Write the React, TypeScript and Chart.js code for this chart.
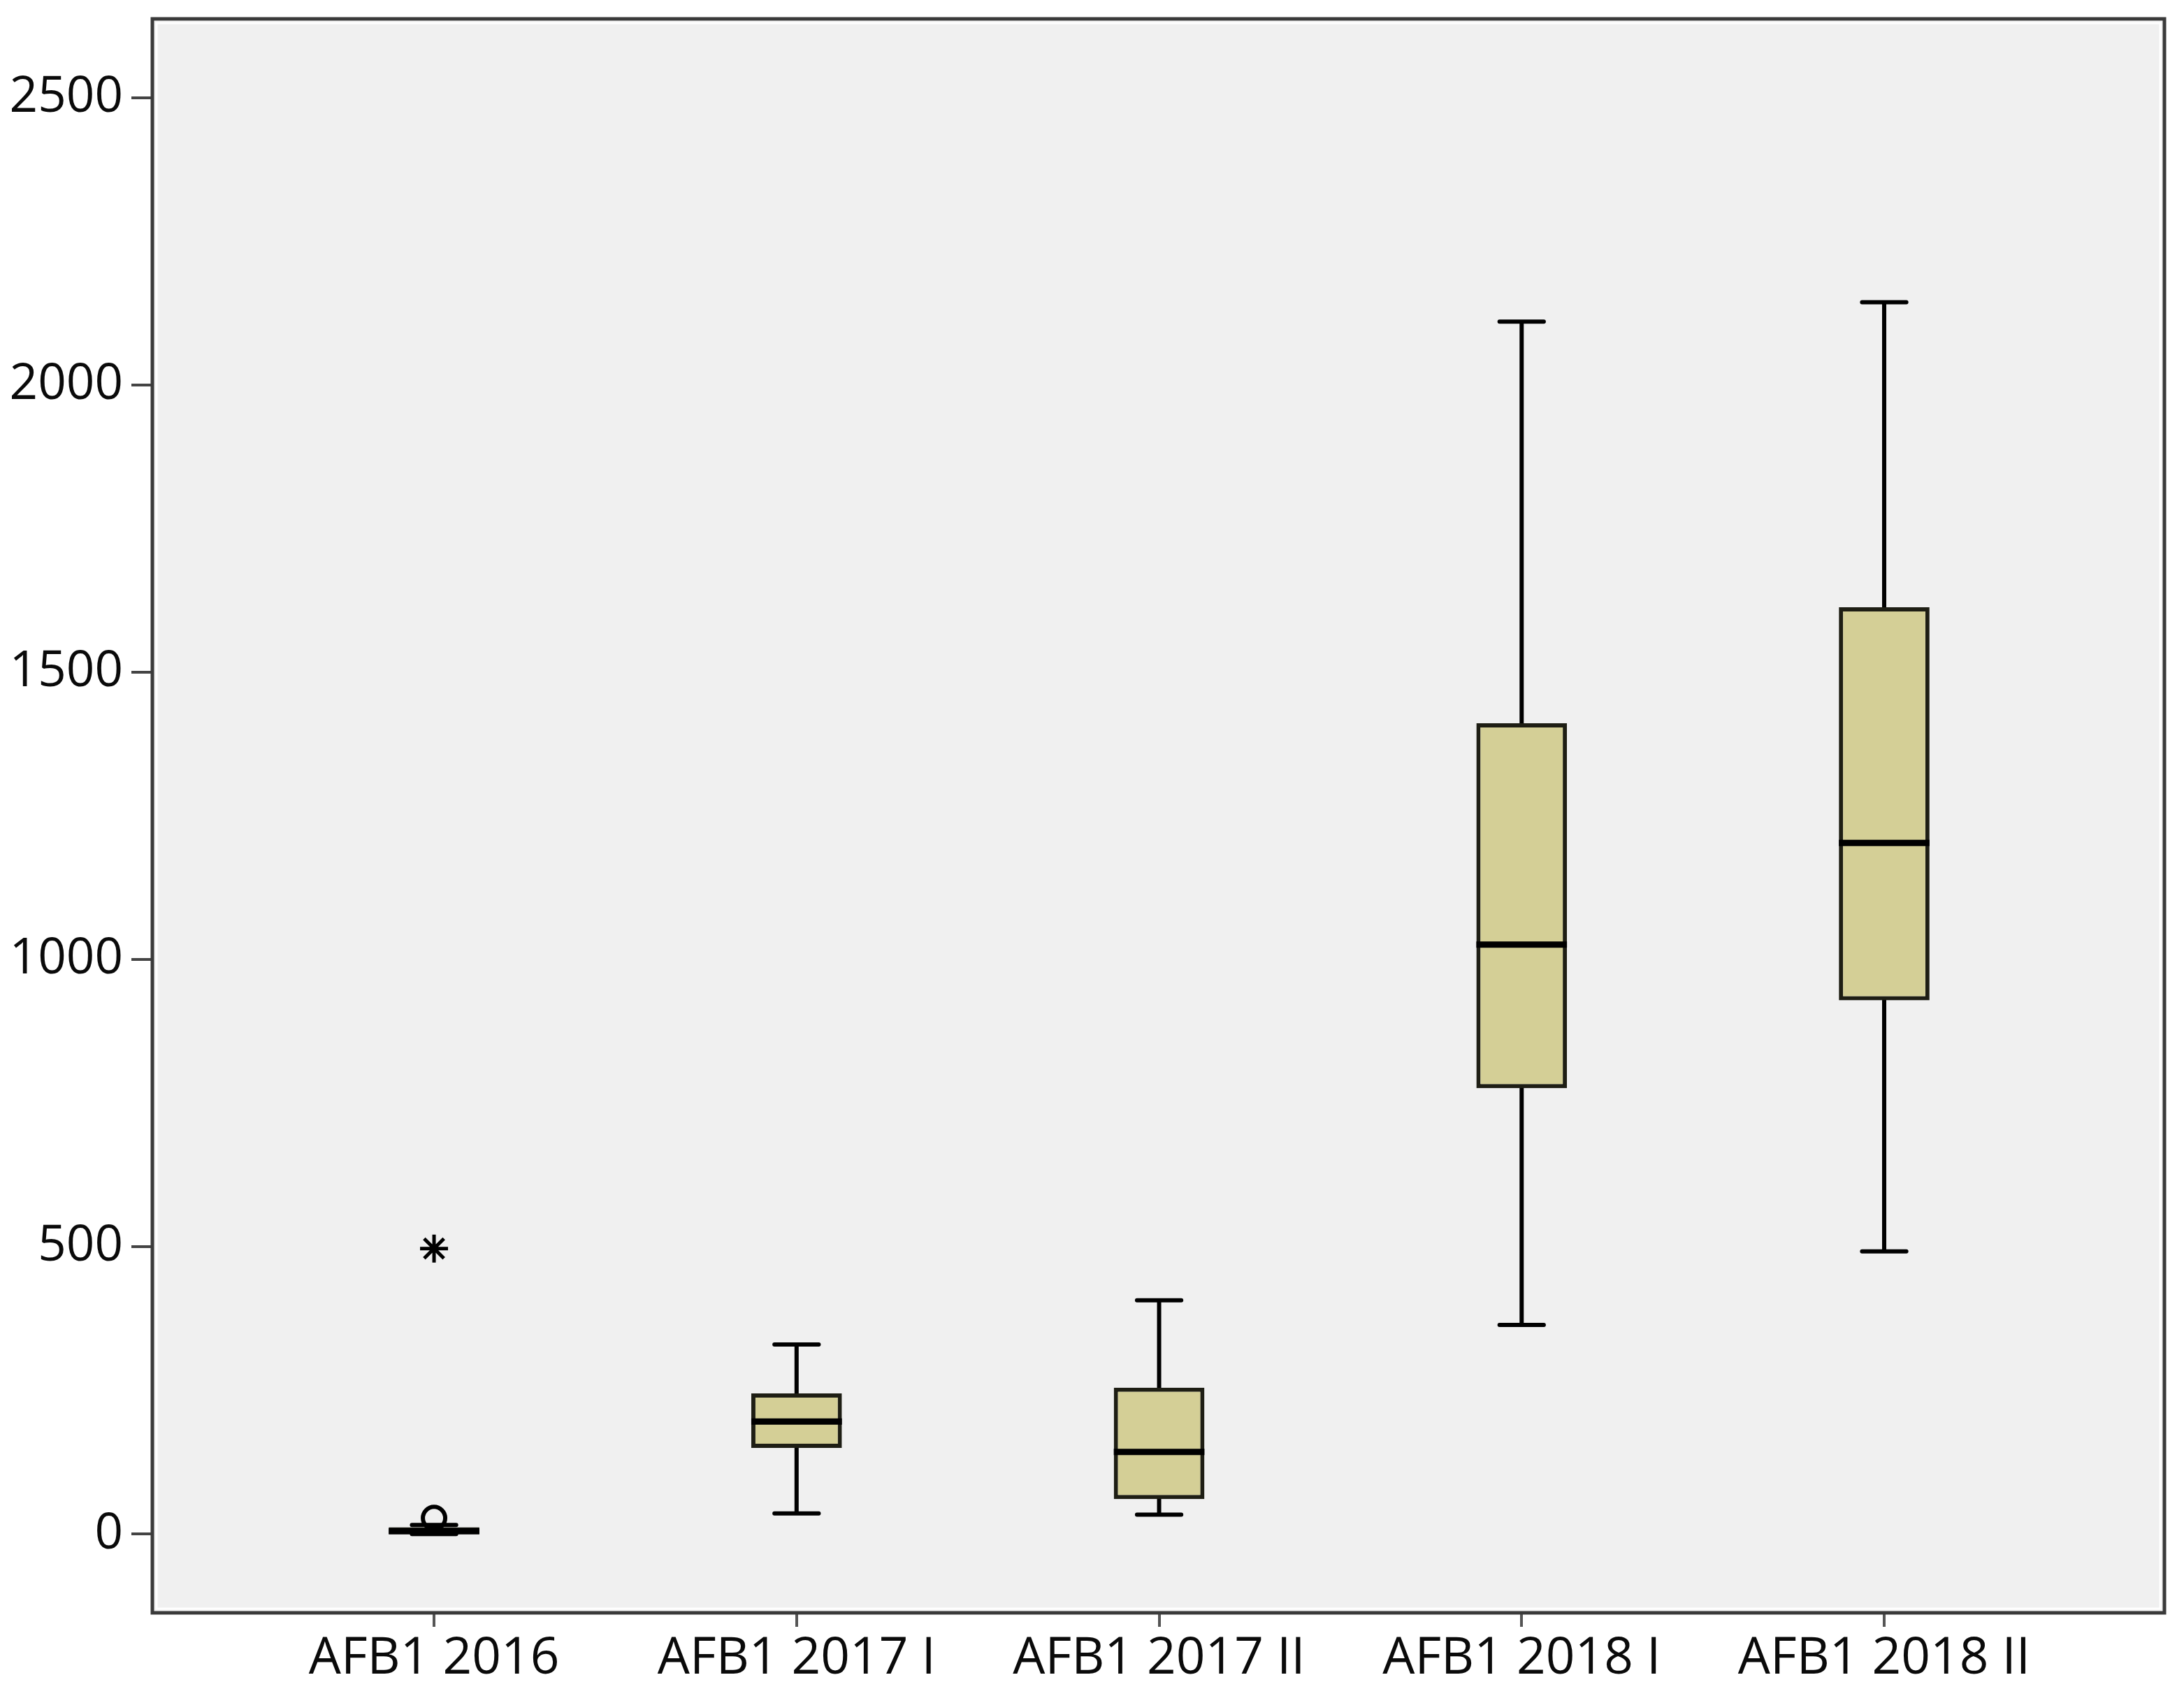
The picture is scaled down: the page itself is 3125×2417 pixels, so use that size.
import React, { useEffect, useRef } from 'react';
import { Chart, registerables } from 'chart.js';

Chart.register(...registerables);

// ---- data ----
const categories = ['AFB1 2016', 'AFB1 2017 I', 'AFB1 2017 II', 'AFB1 2018 I', 'AFB1 2018 II'];
const whiskerLow = [0, 36, 34, 364, 492];
const q1Values = [0.5, 150, 61, 776, 929];
const medians = [5, 196, 143, 1026, 1203];
const q3Values = [12, 245, 255, 1411, 1613];
const whiskerHigh = [16, 330, 407, 2110, 2144];
const outlierCats = [0];
const outlierValues = [28];
const extremeCats = [0];
const extremeValues = [497];
const yTickValues = [0, 500, 1000, 1500, 2000, 2500];

// ---- axis ranges / styling ----
const Y_MIN = -137;
const Y_MAX = 2637;
const X_MIN = -0.777;
const X_MAX = 4.773;
const BOX_FRACTION = 0.25;
const CAP_HALF = 0.061;
const FONT = '"Open Sans", "Noto Sans", sans-serif';

const framePlugin = {
  id: 'frame',
  beforeDraw(chart: any) {
    const { ctx, chartArea } = chart;
    const { left, top, right, bottom } = chartArea;
    ctx.save();
    ctx.fillStyle = '#ffffff';
    ctx.fillRect(0, 0, chart.width, chart.height);
    ctx.fillStyle = '#f0f0f0';
    ctx.fillRect(left, top, right - left, bottom - top);
    ctx.restore();
  },
  afterDraw(chart: any) {
    const { ctx, chartArea } = chart;
    const { left, top, right, bottom } = chartArea;
    ctx.save();
    ctx.strokeStyle = '#ffffff';
    ctx.lineWidth = 3;
    ctx.strokeRect(left + 6, top + 6, right - left - 12, bottom - top - 12);
    ctx.strokeStyle = '#3a3a3a';
    ctx.lineWidth = 5;
    ctx.strokeRect(left, top, right - left, bottom - top);
    ctx.restore();
  },
};

export default function App() {
  const ref = useRef<HTMLCanvasElement | null>(null);

  useEffect(() => {
    if (!ref.current) return;
    Chart.defaults.font.family = FONT;

    const boxData = categories.map((_, i) => ({ x: i, y: [q1Values[i], q3Values[i]] }));

    const whiskerData: any[] = [];
    categories.forEach((_, i) => {
      whiskerData.push({ x: i, y: whiskerLow[i] }, { x: i, y: q1Values[i] }, { x: i, y: null });
      whiskerData.push({ x: i, y: q3Values[i] }, { x: i, y: whiskerHigh[i] }, { x: i, y: null });
      whiskerData.push({ x: i - CAP_HALF, y: whiskerLow[i] }, { x: i + CAP_HALF, y: whiskerLow[i] }, { x: i, y: null });
      whiskerData.push({ x: i - CAP_HALF, y: whiskerHigh[i] }, { x: i + CAP_HALF, y: whiskerHigh[i] }, { x: i, y: null });
    });

    const medianData: any[] = [];
    categories.forEach((_, i) => {
      medianData.push(
        { x: i - BOX_FRACTION / 2, y: medians[i] },
        { x: i + BOX_FRACTION / 2, y: medians[i] },
        { x: i + BOX_FRACTION / 2, y: null }
      );
    });

    const chart = new Chart(ref.current, {
      type: 'bar',
      data: {
        datasets: [
          {
            type: 'line',
            data: whiskerData,
            borderColor: '#000000',
            borderWidth: 6,
            pointRadius: 0,
            spanGaps: false,
            fill: false,
            tension: 0,
            borderCapStyle: 'round',
            order: 3,
          } as any,
          {
            type: 'bar',
            data: boxData,
            backgroundColor: '#d4cf96',
            borderColor: '#1e1e14',
            borderWidth: 6,
            borderSkipped: false,
            barPercentage: BOX_FRACTION,
            categoryPercentage: 1,
            order: 2,
          } as any,
          {
            type: 'line',
            data: medianData,
            borderColor: '#000000',
            borderWidth: 9,
            pointRadius: 0,
            spanGaps: false,
            fill: false,
            borderCapStyle: 'butt',
            order: 1,
          } as any,
          {
            type: 'scatter',
            data: outlierCats.map((c, k) => ({ x: c, y: outlierValues[k] })),
            pointStyle: 'circle',
            pointRadius: 16,
            borderWidth: 6,
            borderColor: '#000000',
            backgroundColor: 'rgba(0,0,0,0)',
            order: 0,
          } as any,
          {
            type: 'scatter',
            data: extremeCats.map((c, k) => ({ x: c, y: extremeValues[k] })),
            pointStyle: 'star',
            pointRadius: 20,
            borderWidth: 5,
            borderColor: '#000000',
            backgroundColor: '#000000',
            order: 0,
          } as any,
        ],
      },
      options: {
        animation: false,
        responsive: false,
        devicePixelRatio: 1,
        events: [],
        layout: { padding: { top: 27, right: 28, left: 0, bottom: 0 } },
        plugins: { legend: { display: false }, tooltip: { enabled: false } },
        scales: {
          x: {
            type: 'linear',
            min: X_MIN,
            max: X_MAX,
            offset: false,
            afterBuildTicks: (s: any) => {
              s.ticks = categories.map((_, i) => ({ value: i }));
            },
            afterFit: (s: any) => {
              s.height = 109;
              s.paddingLeft = 0;
              s.paddingRight = 0;
            },
            ticks: {
              callback: (v: any) => categories[v] ?? '',
              font: { size: 73, family: FONT },
              color: '#0a0a0a',
              padding: 2,
              autoSkip: false,
              maxRotation: 0,
            },
            grid: { drawOnChartArea: false, drawTicks: true, tickLength: 20, color: '#555555', lineWidth: 4, offset: false },
            border: { display: false },
          },
          y: {
            type: 'linear',
            min: Y_MIN,
            max: Y_MAX,
            afterBuildTicks: (s: any) => {
              s.ticks = yTickValues.map((v) => ({ value: v }));
            },
            afterFit: (s: any) => {
              s.width = 218;
              s.paddingTop = 0;
              s.paddingBottom = 0;
            },
            ticks: {
              callback: (v: any) => String(v),
              font: { size: 71, family: FONT },
              color: '#0a0a0a',
              padding: 12,
            },
            grid: { drawOnChartArea: false, drawTicks: true, tickLength: 30, color: '#444444', lineWidth: 4 },
            border: { display: false },
          },
        },
      } as any,
      plugins: [framePlugin],
    });

    return () => chart.destroy();
  }, []);

  return (
    <div style={{ position: 'absolute', left: 0, top: 0, width: 3125, height: 2417, background: '#fff' }}>
      <canvas ref={ref} width={3125} height={2417} style={{ width: 3125, height: 2417, display: 'block' }} />
    </div>
  );
}
